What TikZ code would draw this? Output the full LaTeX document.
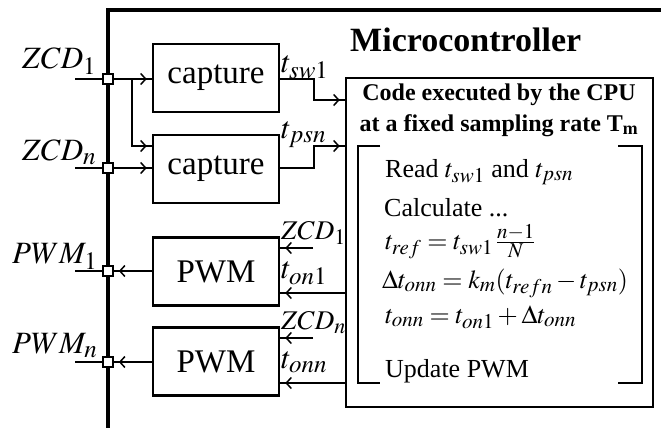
\documentclass[tikz,border=0pt]{standalone}
\usepackage{mathptmx}
\usepackage[no-math]{fontspec}
\setmainfont{Liberation Serif}
\usetikzlibrary{arrows.meta,decorations.markings}
\DeclareMathSizes{26}{26}{21}{16}
\DeclareMathSizes{27}{27}{22}{16}
\DeclareMathSizes{31}{31}{25}{18}
\DeclareMathSizes{24}{24}{18}{14}

\begin{document}
\begin{tikzpicture}[x=1pt,y=-1pt,
 box/.style={draw,line width=2.6pt,minimum width=126pt,minimum height=68pt,inner sep=0pt,font=\fontsize{33}{40}\selectfont},
 junc/.style={draw,fill=white,line width=1.8pt,minimum size=10pt,inner sep=0pt},
 wire/.style={line width=1.8pt},
 sig/.style={wire,postaction={decorate},
  decoration={markings,mark=at position -5pt with {\arrow{Straight Barb[length=5pt,width=11pt,line width=1.5pt]}}}},
 big/.style={anchor=base west,inner sep=0pt,font=\fontsize{31}{37}\selectfont},
 tlab/.style={anchor=base west,inner sep=0pt,font=\fontsize{31}{37}\selectfont},
 zlab/.style={anchor=base west,inner sep=0pt,font=\fontsize{27}{32}\selectfont},
 line/.style={anchor=base west,inner sep=0pt,font=\fontsize{26}{31}\selectfont}]
\useasboundingbox (0,0) rectangle (661,428);
% frame of the microcontroller
\draw[line width=3.2pt] (661,10) -- (108,10) -- (108,428);
\node[anchor=base west,inner sep=0pt,font=\bfseries\fontsize{34}{40}\selectfont] (mcu) at (350,52) {Microcontroller};
% pins
\foreach \n/\yy in {1/79,2/168,3/271,4/362}
 \node[junc] (sq\n) at (108,\yy) {};
\foreach \n/\yy in {1/79,2/168,3/271,4/362}
 \coordinate (pin\n) at (75,\yy);
% blocks
\node[box] (cap1) at (216,78) {capture};
\node[box] (cap2) at (216,169) {capture};
\node[box] (pwm1) at (216,271.5) {PWM};
\node[box] (pwm2) at (216,361.5) {PWM};
\node[draw,line width=2.6pt,minimum width=307pt,minimum height=329pt] (code) at (499.5,242.5) {};
% inputs
\draw[wire] (pin1) -- (sq1);
\draw[wire] (pin2) -- (sq2);
\draw[sig] (sq1) -- (cap1.west |- sq1);
\coordinate (br) at (132,79);
\draw[sig] (br) |- ([yshift=23pt]cap2.west);
\draw[sig] (sq2) -- (cap2.west |- sq2);
\draw[sig] (cap1.east |- sq1) -- ++(34,0) |- (code.west |- 0,100);
\draw[sig] (cap2.east |- sq2) -- ++(34,0) |- (code.west |- 0,146);
% outputs
\draw[wire] (sq3) -- (pin3);
\draw[wire] (sq4) -- (pin4);
\draw[sig] (pwm1.west |- sq3) -- (sq3);
\draw[sig] (pwm2.west |- sq4) -- (sq4);
\coordinate (zp1) at (313,248);
\coordinate (zp2) at (313,338);
\draw[sig] (zp1) -- (pwm1.east |- zp1);
\draw[sig] (zp2) -- (pwm2.east |- zp2);
\draw[sig] (code.west |- 0,293) -- (pwm1.east |- 0,293);
\draw[sig] (code.west |- 0,383) -- (pwm2.east |- 0,383);
% labels
\node[big] (lzcd1) at (22,68) {$ZCD_1$};
\node[big] (lzcdn) at (22,160) {$ZCD_n$};
\node[big] (lpwm1) at (12,263) {$PWM_1$};
\node[big] (lpwmn) at (12,353) {$PWM_n$};
\node[tlab] (ltsw) at (281,72) {$t_{sw1}$};
\node[tlab] (ltps) at (281,138) {$t_{psn}$};
\node[zlab] (lz1) at (281,239) {$ZCD_1$};
\node[tlab] (lton1) at (281,278) {$t_{on1}$};
\node[zlab] (lzn) at (281,329) {$ZCD_n$};
\node[tlab] (ltonn) at (281,368) {$t_{onn}$};
% code executed by the CPU
\node[anchor=base,inner sep=0pt,font=\bfseries\fontsize{24}{29}\selectfont] (head1) at (499,100) {Code executed by the CPU};
\node[anchor=base,inner sep=0pt,font=\bfseries\fontsize{24}{29}\selectfont] (head2) at (499,131) {at a fixed sampling rate T$_{\mathbf{m}}$};
\draw[line width=1.5pt] (380,146) -- (358,146) -- (358,383) -- (380,383);
\draw[line width=1.5pt] (618,146) -- (642,146) -- (642,383) -- (618,383);
\node[line] (read) at (385,177) {Read $t_{sw1}$ and $t_{psn}$};
\node[line] (calc) at (384,216) {Calculate ...};
\node[line] (eq1) at (385,249) {$t_{ref} = t_{sw1}\,\frac{n-1}{N}$};
\node[line] (eq2) at (382,288) {$\Delta t_{onn} = k_m(t_{refn} - t_{psn})$};
\node[line] (eq3) at (385,323) {$t_{onn} = t_{on1} + \Delta t_{onn}$};
\node[line] (upd) at (385,377) {Update PWM};
\end{tikzpicture}
\end{document}
